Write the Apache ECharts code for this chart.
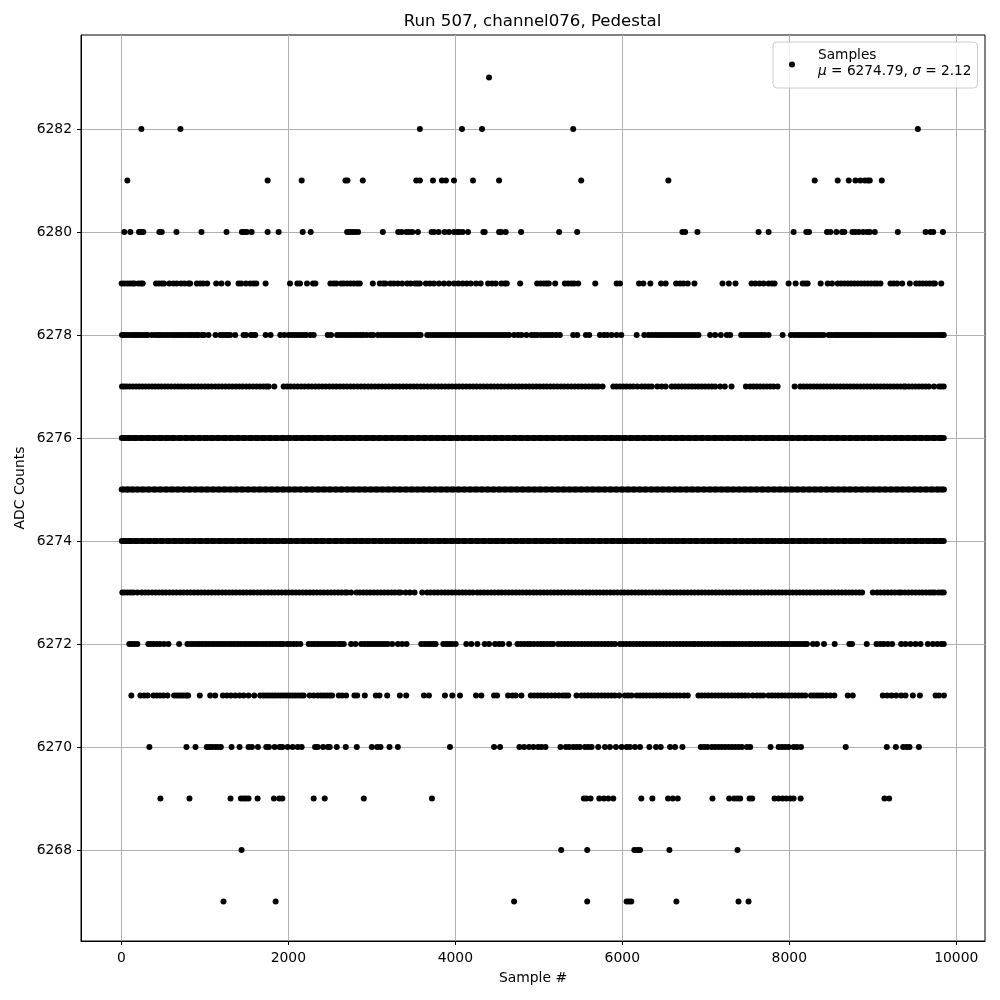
<!DOCTYPE html>
<html>
<head>
<meta charset="utf-8">
<style>html,body{margin:0;padding:0;background:#fff}#c{width:1000px;height:1000px}</style>
<script src="https://cdn.jsdelivr.net/npm/echarts@6/dist/echarts.min.js"></script>
</head>
<body>
<div id="c"></div>
<script>
const titleText = "Run 507, channel076, Pedestal";
const xName = "Sample #";
const yName = "ADC Counts";
const legendLine1 = "Samples";
const xTicks = [0,2000,4000,6000,8000,10000];
const yTicks = [6268,6270,6272,6274,6276,6278,6280,6282];

const r6283 = [4404];
const r6282 = [240,708,3576,4080,4320,5412,9540];
const r6281 = [72,1752,2160,2684,2708,2892,3532,3576,3732,3840,3888,3984,4212,4524,5508,6552,8304,8580,8712,8792,8852,8904,8940,8964,9108];
const r6280 = [36,108,212,240,264,456,484,660,960,1260,1444,1472,1504,1560,1752,1884,2172,2268,2704,2736,2768,2800,2836,3132,3316,3356,3412,3444,3484,3552,3716,3744,3800,3872,3924,3984,4024,4048,4088,4152,4336,4352,4524,4552,4604,4788,5244,5460,6720,6752,6900,7632,7752,8052,8204,8236,8452,8492,8564,8632,8660,8756,8792,8832,8884,8932,8964,9024,9300,9632,9692,9724,9840];
const r6279 = [4,36,72,104,136,156,204,236,256,416,448,484,512,576,624,664,716,756,804,824,904,944,980,1028,1136,1200,1276,1404,1436,1492,1544,1584,1616,1728,2020,2108,2140,2224,2296,2324,2504,2544,2576,2632,2664,2704,2744,2784,2824,2856,3012,3096,3136,3164,3224,3264,3312,3364,3424,3464,3516,3544,3576,3648,3696,3744,3804,3864,3924,3984,4036,4088,4136,4184,4248,4304,4392,4440,4484,4552,4592,4616,4776,4980,5020,5060,5092,5120,5196,5312,5352,5392,5424,5472,5676,5932,5972,6200,6252,6336,6464,6520,6644,6692,6732,6784,6864,7200,7276,7356,7548,7592,7644,7692,7752,7792,7824,7992,8076,8160,8192,8220,8376,8460,8512,8580,8620,8660,8700,8740,8780,8820,8860,8900,8940,8980,9020,9052,9092,9212,9252,9292,9352,9444,9520,9560,9600,9640,9680,9720,9744,9820];
const r6278 = [8,30,62,95,130,160,190,218,250,285,315,364,404,440,470,505,540,572,610,640,672,705,738,772,805,835,870,900,924,964,992,1044,1128,1184,1216,1250,1275,1304,1364,1464,1492,1552,1580,1604,1728,1788,1904,1952,2004,2040,2075,2110,2145,2180,2215,2264,2304,2472,2512,2584,2620,2655,2690,2725,2760,2795,2830,2865,2900,2940,2984,3016,3072,3110,3145,3180,3215,3250,3285,3320,3355,3390,3425,3460,3495,3530,3560,3584,3664,3700,3735,3770,3805,3840,3875,3910,3945,3980,4015,4050,4085,4120,4155,4190,4225,4260,4295,4330,4365,4400,4435,4470,4505,4540,4575,4610,4644,4704,4752,4792,4852,4912,4945,4980,5024,5060,5095,5130,5165,5210,5252,5412,5460,5564,5604,5732,5780,5820,5872,5932,5988,6172,6264,6312,6352,6390,6425,6460,6495,6530,6565,6600,6635,6670,6705,6740,6775,6810,6845,6880,6912,7052,7112,7180,7252,7292,7424,7460,7495,7530,7565,7600,7635,7670,7705,7752,7920,8020,8060,8095,8130,8165,8200,8235,8270,8305,8340,8375,8412,8472,8505,8540,8570,8600,8630,8660,8690,8720,8750,8780,8810,8840,8870,8900,8930,8960,8990,9025,9060,9095,9130,9165,9200,9235,9270,9305,9340,9375,9410,9445,9480,9515,9550,9585,9620,9655,9690,9725,9760,9795,9825,9850];
const r6277 = [8,35,66,102,140,178,215,252,290,330,368,405,442,480,520,558,598,640,680,718,758,800,842,880,920,960,1002,1040,1082,1125,1165,1206,1248,1290,1330,1372,1412,1452,1495,1535,1578,1620,1660,1700,1735,1764,1832,1944,1985,2028,2070,2112,2155,2195,2240,2282,2325,2365,2408,2450,2492,2535,2575,2618,2660,2702,2745,2785,2828,2870,2912,2955,2995,3038,3080,3122,3165,3205,3248,3290,3332,3375,3415,3458,3500,3542,3585,3625,3668,3710,3752,3795,3835,3878,3920,3962,4005,4045,4088,4130,4172,4215,4255,4298,4340,4382,4425,4465,4508,4550,4592,4635,4675,4718,4760,4802,4845,4885,4928,4970,5012,5055,5095,5138,5180,5222,5265,5305,5348,5390,5432,5475,5515,5558,5600,5642,5680,5712,5764,5892,5930,5970,6010,6050,6092,6132,6180,6232,6272,6312,6352,6420,6472,6520,6592,6632,6672,6712,6752,6792,6832,6872,6912,6952,6992,7032,7072,7112,7172,7228,7308,7480,7532,7572,7612,7652,7692,7732,7772,7812,7860,8064,8132,8172,8212,8252,8292,8332,8372,8412,8452,8492,8532,8572,8612,8652,8692,8732,8772,8812,8852,8892,8932,8972,9012,9052,9092,9132,9172,9212,9252,9292,9332,9372,9392,9432,9472,9512,9552,9592,9632,9672,9732,9792,9820,9850];
const r6276 = [6,28,55,85,118,150,185,222,258,295,335,372,410,448,488,525,565,602,640,680,718,758,795,835,872,912,950,990,1028,1066,1105,1142,1182,1220,1260,1298,1336,1375,1412,1452,1490,1530,1568,1606,1645,1682,1722,1760,1800,1838,1876,1915,1952,1992,2030,2070,2108,2146,2185,2222,2262,2300,2340,2378,2416,2455,2492,2532,2570,2610,2648,2686,2725,2762,2802,2840,2880,2918,2956,2995,3032,3072,3110,3150,3188,3226,3265,3302,3342,3380,3420,3458,3496,3535,3572,3612,3650,3690,3728,3766,3805,3842,3882,3920,3960,3998,4036,4075,4112,4152,4190,4230,4268,4306,4345,4382,4422,4460,4500,4538,4576,4615,4652,4692,4730,4770,4808,4846,4885,4922,4962,5000,5040,5078,5116,5155,5192,5232,5270,5310,5348,5386,5425,5462,5502,5540,5580,5618,5656,5695,5732,5772,5810,5850,5888,5926,5965,6002,6042,6085,6125,6162,6202,6240,6280,6318,6356,6395,6432,6472,6510,6550,6588,6626,6665,6702,6742,6780,6820,6858,6896,6935,6972,7012,7050,7090,7128,7166,7205,7242,7282,7320,7360,7398,7436,7475,7512,7552,7590,7630,7668,7706,7745,7782,7822,7860,7900,7938,7976,8015,8052,8092,8130,8170,8208,8246,8285,8322,8362,8400,8440,8478,8516,8555,8592,8632,8670,8710,8748,8786,8825,8862,8902,8940,8980,9018,9056,9095,9132,9172,9210,9250,9288,9326,9365,9402,9442,9480,9520,9558,9596,9635,9672,9712,9750,9790,9825,9850];
const r6276b = [42,102,168,240,315,391,468,545,621,699,776,853,931,1009,1085,1162,1240,1317,1394,1471,1549,1626,1702,1780,1857,1934,2011,2089,2165,2242,2320,2397,2474,2551,2629,2705,2782,2860,2937,3014,3091,3169,3245,3322,3400,3477,3554,3631,3709,3785,3862,3940,4017,4094,4171,4249,4325,4402,4480,4557,4634,4711,4789,4865,4942,5020,5097,5174,5251,5329,5405,5482,5560,5637,5714,5791,5869,5945,6022,6105,6182,6260,6337,6414,6491,6569,6645,6722,6800,6877,6954,7031,7109,7185,7262,7340,7417,7494,7571,7649,7725,7802,7880,7957,8034,8111,8189,8265,8342,8420,8497,8574,8651,8729,8805,8882,8960,9037,9114,9191,9269,9345,9422,9500,9577,9654,9731,9808];
const r6275 = [4,18,38,62,88,115,145,175,208,240,275,310,345,380,415,450,485,520,555,590,625,660,695,730,765,800,835,870,905,940,975,1010,1045,1080,1115,1150,1185,1220,1255,1290,1325,1360,1395,1430,1465,1500,1535,1570,1605,1640,1675,1710,1745,1780,1815,1850,1885,1920,1955,1990,2025,2060,2095,2130,2165,2200,2235,2270,2305,2340,2375,2410,2445,2480,2515,2550,2585,2620,2655,2690,2725,2760,2795,2830,2865,2900,2935,2970,3005,3040,3075,3110,3145,3180,3215,3250,3285,3320,3355,3390,3425,3460,3495,3530,3565,3600,3635,3670,3705,3740,3775,3810,3845,3880,3915,3950,3985,4020,4055,4090,4125,4160,4195,4230,4265,4300,4335,4370,4405,4440,4475,4510,4545,4580,4615,4650,4685,4720,4755,4790,4825,4860,4895,4930,4965,5000,5035,5070,5105,5140,5175,5210,5245,5280,5315,5350,5385,5420,5455,5490,5525,5560,5595,5630,5665,5700,5735,5770,5805,5840,5875,5910,5945,5980,6015,6050,6085,6120,6155,6190,6225,6260,6295,6330,6365,6400,6435,6470,6505,6540,6575,6610,6645,6680,6715,6750,6785,6820,6855,6890,6925,6960,6995,7030,7065,7100,7135,7170,7205,7240,7275,7310,7345,7380,7415,7450,7485,7520,7555,7590,7625,7660,7695,7730,7765,7800,7835,7870,7905,7940,7975,8010,8045,8080,8115,8150,8185,8220,8255,8290,8325,8360,8395,8430,8465,8500,8535,8570,8605,8640,8675,8710,8745,8780,8815,8850,8885,8920,8955,8990,9025,9060,9095,9130,9165,9200,9235,9270,9305,9340,9375,9410,9445,9480,9515,9550,9585,9620,9655,9690,9725,9760,9790,9815,9835,9852];
const r6275b = [74,132,192,258,328,397,468,538,607,678,748,817,888,958,1027,1098,1168,1237,1308,1378,1447,1518,1588,1657,1728,1798,1867,1938,2008,2077,2148,2218,2287,2358,2428,2497,2568,2638,2707,2778,2848,2917,2988,3058,3127,3198,3268,3337,3408,3478,3547,3618,3688,3757,3828,3898,3967,4038,4108,4177,4248,4318,4387,4458,4528,4597,4668,4738,4807,4878,4948,5017,5088,5158,5227,5298,5368,5437,5508,5578,5647,5718,5788,5857,5928,5998,6067,6138,6208,6277,6348,6418,6487,6558,6628,6697,6768,6838,6907,6978,7048,7117,7188,7258,7327,7398,7468,7537,7608,7678,7747,7818,7888,7957,8028,8098,8167,8238,8308,8377,8448,8518,8587,8658,8728,8797,8868,8938,9007,9078,9148,9217,9288,9358,9427,9498,9568,9637,9708,9775];
const r6274 = [6,30,58,90,125,160,198,235,272,310,350,388,425,465,502,542,580,618,658,695,735,772,812,850,888,928,965,1005,1042,1080,1120,1158,1198,1235,1275,1312,1350,1390,1428,1468,1505,1545,1582,1620,1660,1698,1738,1775,1815,1852,1890,1930,1968,2008,2045,2085,2122,2160,2200,2238,2278,2315,2355,2392,2430,2470,2508,2548,2585,2625,2662,2700,2740,2778,2818,2855,2895,2932,2970,3010,3048,3088,3125,3165,3202,3240,3280,3318,3358,3395,3435,3472,3510,3550,3588,3628,3665,3705,3742,3780,3820,3858,3898,3935,3975,4012,4050,4090,4128,4168,4205,4245,4282,4320,4360,4398,4438,4475,4515,4552,4590,4630,4668,4708,4745,4785,4822,4860,4900,4938,4978,5015,5055,5092,5130,5170,5208,5248,5285,5325,5362,5400,5440,5478,5518,5555,5595,5632,5670,5710,5748,5788,5825,5865,5902,5940,5980,6018,6058,6095,6135,6172,6210,6250,6288,6328,6365,6405,6442,6480,6520,6558,6598,6635,6675,6712,6750,6790,6828,6868,6905,6945,6982,7020,7060,7098,7138,7175,7215,7252,7290,7330,7368,7408,7445,7485,7522,7560,7600,7638,7678,7715,7755,7792,7830,7870,7908,7948,7985,8025,8062,8100,8140,8178,8218,8255,8295,8332,8370,8410,8448,8488,8525,8565,8602,8640,8680,8718,8758,8790,8818,8838,8880,8915,8952,8990,9028,9068,9105,9145,9182,9220,9260,9298,9338,9375,9415,9452,9490,9530,9568,9608,9645,9685,9722,9760,9795,9825,9850];
const r6274b = [44,108,179,253,330,407,484,561,638,715,792,869,946,1023,1100,1178,1255,1331,1409,1486,1563,1640,1718,1795,1871,1949,2026,2103,2180,2258,2335,2411,2489,2566,2643,2720,2798,2875,2951,3029,3106,3183,3260,3338,3415,3491,3569,3646,3723,3800,3878,3955,4031,4109,4186,4263,4340,4418,4495,4571,4649,4726,4803,4880,4958,5035,5111,5189,5266,5343,5420,5498,5575,5651,5729,5806,5883,5960,6038,6115,6191,6269,6346,6423,6500,6578,6655,6731,6809,6886,6963,7040,7118,7195,7271,7349,7426,7503,7580,7658,7735,7811,7889,7966,8043,8120,8198,8275,8351,8429,8506,8583,8660,8738,8898,8971,9048,9125,9202,9279,9356,9433,9510,9587,9664,9741,9810];
const r6273 = [12,40,75,110,144,192,244,285,325,368,410,452,495,535,578,620,662,705,745,788,830,872,915,955,998,1040,1082,1125,1165,1208,1250,1292,1335,1375,1418,1460,1502,1545,1585,1628,1670,1712,1755,1795,1838,1880,1922,1965,2005,2048,2090,2132,2175,2215,2258,2300,2342,2385,2425,2468,2510,2552,2595,2635,2678,2704,2752,2816,2855,2898,2940,2982,3025,3065,3108,3150,3192,3235,3275,3318,3344,3404,3456,3512,3604,3664,3705,3748,3790,3832,3875,3915,3958,4000,4042,4085,4125,4168,4210,4264,4304,4345,4388,4430,4472,4515,4555,4598,4640,4682,4725,4765,4808,4850,4892,4935,4975,5018,5060,5102,5145,5185,5228,5270,5312,5355,5395,5438,5480,5522,5565,5605,5648,5690,5732,5775,5815,5858,5900,5942,5985,6025,6068,6110,6152,6195,6235,6278,6320,6362,6405,6445,6488,6530,6572,6615,6655,6698,6740,6782,6825,6865,6908,6950,6992,7035,7075,7118,7160,7202,7245,7285,7328,7370,7412,7455,7495,7538,7580,7622,7665,7705,7748,7790,7832,7875,7915,7958,8000,8042,8085,8125,8168,8210,8252,8295,8335,8378,8420,8462,8505,8545,8588,8630,8672,8715,8755,8798,8840,8872,9000,9052,9095,9138,9180,9222,9265,9312,9340,9385,9428,9470,9512,9555,9595,9638,9680,9712,9740,9785,9820,9850];
const r6272 = [96,124,156,192,324,352,384,424,464,512,564,692,792,830,865,900,935,970,1005,1040,1075,1110,1145,1180,1215,1250,1285,1320,1355,1390,1425,1460,1495,1530,1565,1600,1635,1670,1705,1740,1775,1810,1845,1880,1910,1940,1984,2020,2060,2100,2144,2244,2280,2315,2350,2385,2420,2455,2490,2525,2560,2600,2630,2664,2752,2804,2872,2910,2945,2980,3015,3050,3085,3120,3155,3190,3244,3312,3364,3416,3592,3630,3665,3700,3735,3764,3856,3890,3925,3960,4004,4132,4192,4264,4352,4404,4476,4524,4564,4644,4744,4785,4825,4865,4900,4940,4985,5024,5060,5100,5140,5172,5232,5270,5310,5350,5390,5430,5470,5510,5550,5590,5630,5670,5710,5750,5790,5830,5870,5912,5972,6010,6050,6090,6130,6170,6210,6250,6290,6330,6370,6410,6450,6490,6530,6570,6610,6650,6690,6730,6770,6810,6845,6872,6912,6950,6990,7030,7070,7110,7150,7190,7225,7260,7295,7330,7365,7400,7440,7480,7520,7552,7592,7630,7670,7710,7750,7790,7830,7870,7905,7940,7975,8010,8045,8080,8115,8150,8185,8212,8284,8332,8416,8544,8720,8752,8928,9044,9092,9132,9180,9232,9340,9392,9452,9512,9572,9660,9720,9772,9820,9850];
const r6271 = [120,228,272,316,384,424,464,504,552,632,660,690,720,750,780,800,940,1064,1124,1216,1264,1312,1364,1416,1464,1524,1592,1664,1700,1735,1770,1805,1840,1875,1910,1945,1980,2015,2050,2085,2120,2155,2184,2256,2304,2352,2390,2425,2460,2495,2524,2604,2644,2692,2792,2824,2916,3048,3092,3184,3336,3412,3624,3684,3876,3964,4056,4248,4312,4464,4500,4632,4684,4724,4792,4904,4945,4985,5024,5062,5105,5150,5195,5240,5285,5320,5352,5452,5512,5550,5590,5630,5670,5710,5750,5790,5830,5870,5910,5964,6032,6070,6110,6172,6212,6250,6290,6330,6370,6410,6450,6490,6530,6570,6610,6650,6690,6740,6784,6912,6950,6990,7030,7070,7110,7150,7190,7230,7270,7310,7350,7390,7430,7470,7510,7564,7612,7650,7690,7752,7792,7830,7870,7910,7950,7990,8030,8070,8110,8150,8192,8260,8295,8330,8365,8400,8444,8492,8540,8700,8760,9120,9172,9224,9280,9340,9392,9480,9564,9752,9792,9852];
const r6270 = [336,780,888,1024,1056,1088,1124,1156,1192,1320,1416,1524,1564,1636,1736,1768,1836,1896,1928,1992,2052,2112,2160,2320,2352,2416,2472,2496,2580,2688,2820,3000,3064,3104,3212,3312,3936,4464,4536,4768,4824,4884,4936,4992,5032,5080,5260,5324,5364,5412,5452,5492,5552,5592,5632,5712,5792,5852,5924,5992,6052,6092,6152,6212,6324,6404,6460,6572,6632,6720,6940,6980,7020,7072,7112,7152,7192,7232,7272,7312,7352,7392,7432,7492,7532,7776,7872,7912,7952,7992,8052,8092,8140,8676,9168,9276,9364,9404,9440,9552];
const r6269 = [468,816,1308,1432,1464,1492,1524,1632,1828,1892,1928,2304,2436,2904,3720,5540,5572,5620,5724,5780,5832,5892,6228,6360,6548,6604,6664,7080,7280,7340,7380,7412,7524,7556,7824,7872,7920,7964,8012,8052,8136,9140,9196];
const r6268 = [1440,5268,5580,6144,6180,6212,6564,7380];
const r6267 = [1224,1848,4704,5580,6052,6080,6108,6648,7392,7512];

const rows = [[6283,r6283],[6282,r6282],[6281,r6281],[6280,r6280],[6279,r6279],[6278,r6278],[6277,r6277],[6276,r6276],[6276,r6276b],[6275,r6275],[6275,r6275b],[6274,r6274],[6274,r6274b],[6273,r6273],[6272,r6272],[6271,r6271],[6270,r6270],[6269,r6269],[6268,r6268],[6267,r6267]];
const samples = [];
rows.forEach(r => r[1].forEach(x => samples.push([x, r[0]])));

const font = "DejaVu Sans";
const chart = echarts.init(document.getElementById('c'), null, {renderer:'canvas'});
chart.setOption({
  animation:false,
  backgroundColor:'#fff',
  textStyle:{fontFamily:font,color:'#000'},
  title:{text:titleText,left:527.5,top:8,textAlign:'center',
    textStyle:{fontFamily:font,fontSize:16.6,fontWeight:'normal',color:'#000'}},
  grid:{left:81,right:15,top:35,bottom:59,show:true,borderColor:'#000',borderWidth:1,backgroundColor:'transparent'},
  xAxis:{type:'value',min:-483,max:10344,name:xName,nameLocation:'middle',nameGap:30,
    nameTextStyle:{fontFamily:font,fontSize:13.9,color:'#000'},
    axisLine:{show:true,onZero:false,lineStyle:{color:'#000',width:1}},
    axisTick:{show:true,length:4,customValues:xTicks,lineStyle:{color:'#000',width:1}},
    axisLabel:{show:true,customValues:xTicks,margin:10,fontFamily:font,fontSize:13.9,color:'#000',formatter:v=>String(v)},
    splitLine:{show:true,lineStyle:{color:'#b0b0b0',width:1}}},
  yAxis:{type:'value',min:6266.235,max:6283.825,name:yName,nameLocation:'middle',nameGap:54,nameMoveOverlap:false,
    nameTextStyle:{fontFamily:font,fontSize:13.9,color:'#000'},
    axisLine:{show:true,onZero:false,lineStyle:{color:'#000',width:1}},
    axisTick:{show:true,length:4,customValues:yTicks,lineStyle:{color:'#000',width:1}},
    axisLabel:{show:true,customValues:yTicks,margin:9,fontFamily:font,fontSize:13.9,color:'#000',formatter:v=>String(v)},
    splitLine:{show:true,lineStyle:{color:'#b0b0b0',width:1}}},
  legend:{show:true,left:773,top:42,orient:'vertical',padding:[5,6,6,16],itemWidth:42,itemHeight:6,itemGap:0,
    backgroundColor:'rgba(255,255,255,0.8)',borderColor:'#ccc',borderWidth:1,borderRadius:4,
    icon:'circle',
    data:[{name:legendLine1}],
    formatter:()=>legendLine1+"\n{i|μ} = 6274.79, {i|σ} = 2.12",
    textStyle:{fontFamily:font,fontSize:13.7,color:'#000',lineHeight:16,padding:[0,0,3,0],rich:{i:{fontFamily:font,fontStyle:'italic',fontSize:13.7,color:'#000',lineHeight:16}}}},
  series:[{name:legendLine1,type:'scatter',data:samples,symbol:'circle',symbolSize:6,
    itemStyle:{color:'#000',opacity:1},large:false,silent:true,zlevel:0,z:3}]
});
</script>
</body>
</html>
